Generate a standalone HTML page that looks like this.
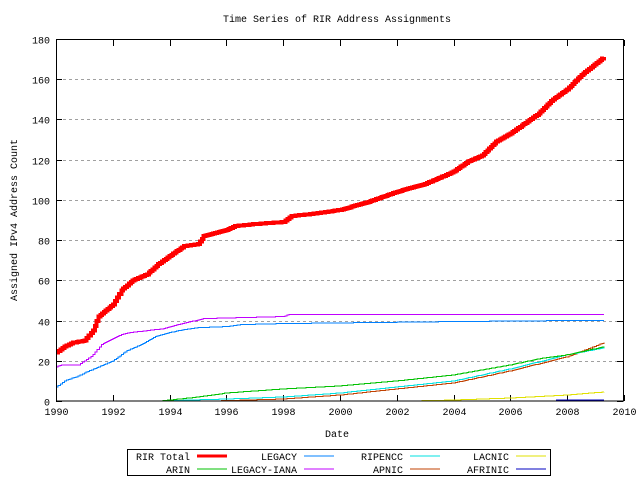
<!DOCTYPE html>
<html><head><meta charset="utf-8"><style>
html,body{margin:0;padding:0;background:#fff}
svg text{font-family:"Liberation Mono",monospace;font-size:10px;fill:#000}
</style></head><body>
<svg id="s" width="640" height="480" xmlns="http://www.w3.org/2000/svg">
<rect width="640" height="480" fill="#fff"/>
<g id="grid" stroke="#a0a0a0" stroke-dasharray="3,3" stroke-width="1" shape-rendering="crispEdges"></g>
<g id="ticks" stroke="#000" stroke-width="1" shape-rendering="crispEdges"></g>
<g id="labels"></g>
<g id="series" fill="none" shape-rendering="crispEdges"></g>
<rect x="56.5" y="39.5" width="567" height="361.5" fill="none" stroke="#000"/>
<text x="337" y="22" text-anchor="middle">Time Series of RIR Address Assignments</text>
<text x="337" y="437" text-anchor="middle">Date</text>
<text transform="translate(17,220) rotate(-90)" text-anchor="middle">Assigned IPv4 Address Count</text>
<rect x="127.5" y="449.5" width="423" height="26" fill="none" stroke="#000"/>
<g id="legend"></g>
</svg>
<script>
var NS="http://www.w3.org/2000/svg";
function X(y){return 56+(y-1990)*28.4}
function Y(v){return 401-v*2.0111}
function el(p,t,a,txt){var e=document.createElementNS(NS,t);for(var k in a)e.setAttribute(k,a[k]);if(txt)e.textContent=txt;document.getElementById(p).appendChild(e);return e}
for(var v=0;v<=180;v+=20){var y=Math.round(Y(v))+0.5;
 if(v>0&&v<180)el("grid","line",{x1:57,x2:623,y1:y,y2:y});
 el("ticks","line",{x1:56,x2:62,y1:y,y2:y});el("ticks","line",{x1:617,x2:623,y1:y,y2:y});
 el("labels","text",{x:50,y:y+4,"text-anchor":"end"},""+v);}
for(var yr=1990;yr<=2010;yr+=2){var x=Math.round(X(yr))+0.5;
 el("ticks","line",{x1:x,x2:x,y1:401,y2:395});el("ticks","line",{x1:x,x2:x,y1:40,y2:46});
 el("labels","text",{x:x,y:415,"text-anchor":"middle"},""+yr);}
function step(pts,color,w){
 var d="",n=0;
 for(var i=0;i<pts.length-1;i++){var a=pts[i],b=pts[i+1];
  var segs=Math.max(1,Math.round((b[0]-a[0])*15));
  for(var j=0;j<segs;j++){var t0=a[0]+(b[0]-a[0])*j/segs,v=a[1]+(b[1]-a[1])*j/segs,t1=a[0]+(b[0]-a[0])*(j+1)/segs;
   d+=(n++?"L":"M")+X(t0).toFixed(1)+","+Y(v).toFixed(1)+"L"+X(t1).toFixed(1)+","+Y(v).toFixed(1);}
 }
 var l=pts[pts.length-1];d+="L"+X(l[0]).toFixed(1)+","+Y(l[1]).toFixed(1);
 el("series","path",{d:d,stroke:color,"stroke-width":w});
}
step([[2007.6,0.3],[2009.3,0.3]],"#0000c0",1.5);
step([[2002.5,0],[2004,0.5],[2006,1.5],[2008,3],[2009.3,4.5]],"#e0e000",1);
step([[1995.5,0],[1998,1],[2000,3],[2002,6],[2004,9],[2006,15],[2008,22],[2009.3,29]],"#c04000",1);
step([[1993.5,0],[1996,1],[1998,2],[2000,4],[2002,7],[2004,10],[2006,16],[2008,23],[2009.3,26.5]],"#00e0e0",1);
step([[1993.7,0],[1994,0.5],[1995,2],[1996,4],[1997,5],[1998,6],[2000,7.5],[2002,10],[2004,13],[2006,18],[2007,21],[2008,23],[2009.3,27]],"#00c000",1);
step([[1990,7],[1990.3,10],[1990.7,12],[1991,14],[1991.5,17],[1992,20],[1992.5,25],[1993,28],[1993.5,32],[1994,34],[1994.5,35.5],[1995,36.5],[1996,37],[1996.5,38],[1998,38.5],[2001,39],[2004,39.5],[2008,40],[2009.3,40]],"#0080ff",1);
step([[1990,17],[1990.2,18],[1990.8,18],[1991,20],[1991.3,23],[1991.6,28],[1992,31],[1992.3,33],[1992.6,34],[1993.2,35],[1993.8,36],[1994.3,38],[1994.6,39],[1995.2,41],[1998,42],[1998.2,43],[2009.3,43]],"#c000ff",1);
step([[1990,24],[1990.3,27],[1990.6,29],[1991,30],[1991.3,35],[1991.5,42],[1992,48],[1992.3,55],[1992.7,60],[1993.2,63],[1993.6,68],[1994,72],[1994.5,77],[1995,78],[1995.2,82],[1996,85],[1996.3,87],[1997,88],[1998,89],[1998.3,92],[1999,93],[2000,95],[2001,99],[2002,104],[2003,108],[2004,114],[2004.5,119],[2005,122],[2005.5,129],[2006,133],[2007,143],[2007.5,150],[2008,155],[2008.5,162],[2009.3,171]],"#ff0000",4);
var L=[["RIR Total","#ff0000",190,197,3],["LEGACY","#0080ff",297,304,1],["RIPENCC","#00e0e0",403,410,1],["LACNIC","#e0e000",509,516,1],
["ARIN","#00c000",190,197,1],["LEGACY-IANA","#c000ff",297,304,1],["APNIC","#c04000",403,410,1],["AFRINIC","#0000c0",509,516,1]];
L.forEach(function(e,i){var y=i<4?456:469;
 el("legend","text",{x:e[2],y:y+4,"text-anchor":"end"},e[0]);
 el("legend","line",{x1:e[3],x2:e[3]+30,y1:y,y2:y,stroke:e[1],"stroke-width":e[4]});});
</script>
</body></html>
